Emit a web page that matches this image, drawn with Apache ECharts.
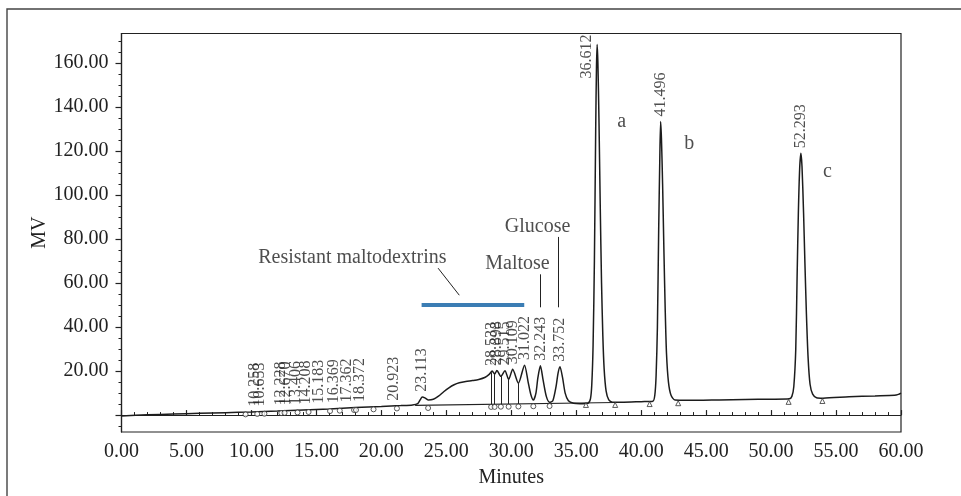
<!DOCTYPE html>
<html>
<head>
<meta charset="utf-8">
<script src="https://cdn.jsdelivr.net/npm/echarts@6/dist/echarts.min.js"></script>
<style>
  html, body { margin: 0; background: #fff; }
  #chart { width: 961px; height: 496px; }
</style>
</head>
<body>
<div id="chart"></div>
<script>
// detector trace (minutes, mV)
const traceTimes = [
  0, 2, 4, 6, 8, 10, 12, 14, 16, 18, 20, 21.5, 22.4, 22.8, 23.0, 23.15, 23.35, 23.6,
  24.0, 24.4, 24.8, 25.2, 25.6, 26.0, 26.5, 27.0, 27.5, 28.0, 28.3, 28.533, 28.72, 28.898,
  29.2, 29.515, 29.8, 30.109, 30.55, 31.022, 31.3, 31.5, 31.7, 31.9, 32.05, 32.243, 32.45,
  32.7, 32.95, 33.2, 33.45, 33.6, 33.752, 33.95, 34.15, 34.4, 34.8, 35.3, 35.9,
  36.1, 36.2, 36.3, 36.4, 36.5, 36.56, 36.612, 36.67, 36.75, 36.85, 36.95, 37.05, 37.15, 37.3, 37.5, 37.8,
  38.5, 40.0, 40.9, 41.05, 41.15, 41.25, 41.35, 41.43, 41.496, 41.56, 41.65, 41.75, 41.85, 41.95, 42.1, 42.3, 42.6,
  43.5, 46, 48, 50, 51.4, 51.6, 51.75, 51.9, 52.0, 52.1, 52.2, 52.293, 52.38, 52.5, 52.6, 52.72, 52.85, 53.0, 53.2, 53.5,
  54, 56, 58, 59.5, 59.8, 60
];
const traceValues = [
  -0.4, 0.1, 0.5, 0.8, 1.1, 1.4, 1.8, 2.3, 2.8, 3.4, 3.9, 4.3, 4.6, 5.2, 7.0, 8.2, 7.8, 6.9,
  7.2, 8.6, 10.6, 12.4, 13.8, 14.7, 15.3, 15.7, 16.2, 17.2, 18.5, 20.0, 18.6, 20.3,
  17.6, 20.2, 16.2, 20.8, 14.5, 22.7, 15.0, 9.5, 6.8, 10.0, 17.0, 22.4, 16.0,
  8.5, 5.8, 6.5, 13.0, 19.0, 22.0, 17.0, 10.0, 6.5, 5.4, 5.2, 5.4,
  7.5, 14, 32, 70, 130, 158, 168.5, 160, 135, 95, 60, 36, 21, 11, 7, 5.8,
  5.8, 6.1, 6.3, 9, 18, 40, 85, 115, 133.5, 126, 105, 75, 48, 28, 15, 9, 6.8,
  6.7, 6.9, 7.1, 7.2, 7.4, 8.5, 13, 30, 62, 92, 112, 119, 113, 92, 70, 46, 26, 14, 9.5, 7.9,
  7.7, 8.3, 8.7, 9.0, 9.4, 10.0
];

// retention times printed over the peaks and the trace height under each
const peakTimes = [
  10.258, 10.653, 12.228, 12.670, 13.406, 14.208, 15.183, 16.369, 17.362, 18.372,
  20.923, 23.113, 28.533, 28.898, 29.515, 30.109, 31.022, 32.243, 33.752,
  36.612, 41.496, 52.293
];
const peakHeights = [
  1.5, 1.6, 2.0, 2.1, 2.3, 2.5, 2.8, 3.1, 3.4, 3.7,
  4.2, 8.3, 20.0, 20.3, 20.2, 20.8, 22.7, 22.4, 22.0,
  168.5, 133.5, 119.0
];

// integration baseline and valley drop lines
const baseTimes = [22.6, 38.0];
const baseValues = [4.4, 5.7];
const dropTimes = [28.45, 28.72, 29.2, 29.8, 30.55];
const dropTops = [19.4, 18.6, 17.6, 16.2, 14.5];
const dropBottoms = [4.9, 4.9, 4.9, 5.0, 5.0];

// peak start / end markers
const circleTimes = [9.55, 10.45, 11.0, 12.3, 12.55, 13.55, 14.4, 16.05, 16.8, 17.9, 18.05, 19.4, 21.2, 23.6,
  28.45, 28.72, 29.2, 29.8, 30.55, 31.7, 32.95];
const circleValues = [0.3, 0.5, 0.6, 0.9, 1.0, 1.2, 1.4, 1.8, 2.0, 2.3, 2.3, 2.6, 3.0, 3.2,
  3.7, 3.7, 3.8, 3.8, 3.9, 4.0, 4.1];
const triangleTimes = [35.75, 38.0, 40.65, 42.85, 51.35, 53.95];
const triangleValues = [4.6, 4.6, 5.0, 5.4, 6.0, 6.4];

// annotations
const noteTexts = ['Resistant maltodextrins', 'Maltose', 'Glucose', 'a', 'b', 'c'];
const noteTimes = [17.77, 30.48, 32.03, 38.5, 43.7, 54.33];
const noteValues = [71.4, 69.0, 85.6, 133.3, 123.5, 110.6];
const barRange = [[23.1, 50], [31.0, 50]];
const pointerLines = [
  [[24.37, 66.8], [26.0, 54.5]],
  [[32.22, 64.0], [32.22, 49.0]],
  [[33.63, 81.0], [33.63, 49.0]]
];

// axis ticks
const yLabelValues = [20, 40, 60, 80, 100, 120, 140, 160];
const yMajorTicks = [0, 20, 40, 60, 80, 100, 120, 140, 160];
const yMinorTicks = [-5, 5, 10, 15, 25, 30, 35, 45, 50, 55, 65, 70, 75, 85, 90, 95,
  105, 110, 115, 125, 130, 135, 145, 150, 155, 165, 170];

const serif = '"Liberation Serif", "DejaVu Serif", serif';
const ink = '#222';
const yMin = -7.7;
const yMax = 173.5;

const chart = echarts.init(document.getElementById('chart'));

const trace = traceTimes.map((t, i) => [t, traceValues[i]]);
const baseline = baseTimes.map((t, i) => [t, baseValues[i]]);

const peakData = peakTimes.map((t, i) => {
  const item = { value: [t, peakHeights[i]], name: t.toFixed(3) };
  // the tallest peak reaches the frame, so its label sits beside it
  if (peakHeights[i] > 150) {
    item.label = { position: [-10, -10], align: 'right' };
  }
  return item;
});

const dropLines = dropTimes.map((t, i) => [
  { coord: [t, dropTops[i]] },
  { coord: [t, dropBottoms[i]] }
]);

const noteLines = pointerLines.map(seg => [{ coord: seg[0] }, { coord: seg[1] }]);
noteLines.push([
  { coord: barRange[0], lineStyle: { color: '#3b7db4', width: 4 } },
  { coord: barRange[1] }
]);

chart.setOption({
  animation: false,
  backgroundColor: '#fff',
  textStyle: { fontFamily: serif },
  grid: {
    left: 121.5, right: 60, top: 33.5, bottom: 64,
    show: true, borderColor: ink, borderWidth: 1.2
  },
  graphic: [{
    type: 'rect',
    shape: { x: 7, y: 9, width: 1000, height: 600 },
    style: { fill: 'none', stroke: '#444', lineWidth: 1.4 },
    silent: true
  }],
  xAxis: {
    type: 'value',
    min: 0, max: 60, interval: 5,
    name: 'Minutes', nameLocation: 'middle', nameGap: 36,
    nameTextStyle: { fontSize: 20, color: ink, fontFamily: serif },
    axisLine: { lineStyle: { color: ink, width: 1.2 } },
    axisTick: { inside: true, length: 5, lineStyle: { color: ink, width: 1.2 } },
    minorTick: { show: true, splitNumber: 5, length: 3, lineStyle: { color: ink, width: 1 } },
    axisLabel: {
      fontSize: 20, color: ink, fontFamily: serif, margin: 10,
      formatter: v => v.toFixed(2)
    },
    splitLine: { show: false }
  },
  yAxis: [{
    type: 'value',
    min: yMin, max: yMax,
    name: 'MV', nameLocation: 'middle', nameGap: 72, nameMoveOverlap: false,
    nameTextStyle: { fontSize: 20, color: ink, fontFamily: serif },
    axisLine: { show: true, lineStyle: { color: ink, width: 1.2 } },
    axisTick: { customValues: yMajorTicks, length: 6, lineStyle: { color: ink, width: 1.2 } },
    axisLabel: {
      customValues: yLabelValues, fontSize: 20, color: ink, fontFamily: serif, margin: 13,
      formatter: v => v.toFixed(2)
    },
    splitLine: { show: false }
  }, {
    type: 'value',
    min: yMin, max: yMax,
    position: 'left',
    axisLine: { show: false },
    axisTick: { customValues: yMinorTicks, length: 3, lineStyle: { color: ink, width: 1 } },
    axisLabel: { show: false },
    splitLine: { show: false }
  }],
  series: [{
    name: 'trace',
    type: 'line',
    data: trace,
    symbol: 'none',
    smooth: 0.25,
    lineStyle: { color: '#1c1c1c', width: 1.5 },
    z: 3
  }, {
    name: 'baseline',
    type: 'line',
    data: baseline,
    symbol: 'none',
    lineStyle: { color: ink, width: 1.1 },
    markLine: {
      silent: true, symbol: ['none', 'none'], label: { show: false },
      lineStyle: { color: ink, width: 1, type: 'solid' },
      data: dropLines
    },
    z: 2
  }, {
    name: 'starts',
    type: 'scatter',
    data: circleTimes.map((t, i) => [t, circleValues[i]]),
    symbol: 'circle', symbolSize: 5,
    itemStyle: { color: '#fff', borderColor: '#333', borderWidth: 1 },
    z: 4
  }, {
    name: 'ends',
    type: 'scatter',
    data: triangleTimes.map((t, i) => [t, triangleValues[i]]),
    symbol: 'triangle', symbolSize: 5,
    itemStyle: { color: '#fff', borderColor: '#333', borderWidth: 1 },
    z: 4
  }, {
    name: 'peak labels',
    type: 'scatter',
    data: peakData,
    symbolSize: 0.1,
    itemStyle: { color: 'transparent' },
    label: {
      show: true, formatter: '{b}', rotate: 90,
      position: 'top', distance: 5, align: 'left', verticalAlign: 'middle',
      fontSize: 16, color: ink, fontFamily: serif
    },
    silent: true,
    z: 5
  }, {
    name: 'notes',
    type: 'scatter',
    data: noteTexts.map((s, i) => ({ value: [noteTimes[i], noteValues[i]], name: s })),
    symbolSize: 0.1,
    itemStyle: { color: 'transparent' },
    label: {
      show: true, formatter: '{b}', position: 'inside',
      fontSize: 20, color: ink, fontFamily: serif
    },
    markLine: {
      silent: true, symbol: ['none', 'none'], label: { show: false },
      lineStyle: { color: ink, width: 1, type: 'solid' },
      data: noteLines
    },
    silent: true,
    z: 5
  }]
});
</script>
</body>
</html>
